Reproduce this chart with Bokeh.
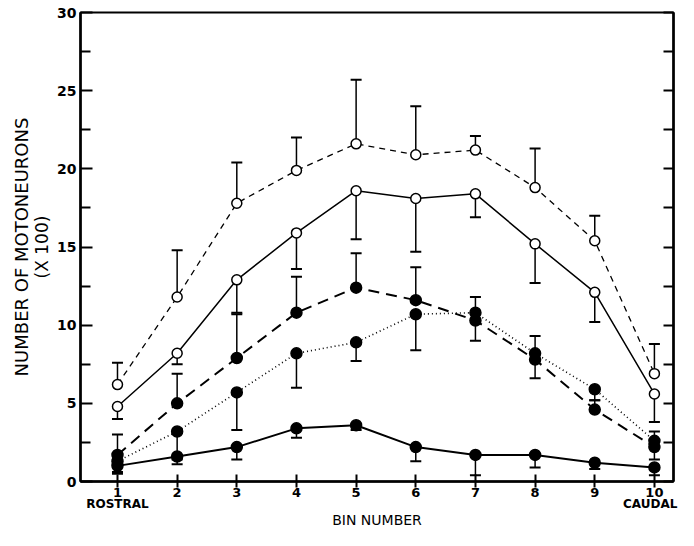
from bokeh.plotting import figure
from bokeh.models import LinearAxis, FixedTicker, Range1d
from bokeh.embed import file_html
from bokeh.resources import INLINE

# ---- data ----
bins = [1, 2, 3, 4, 5, 6, 7, 8, 9, 10]

open_dashed_mean = [6.2, 11.8, 17.8, 19.9, 21.6, 20.9, 21.2, 18.8, 15.4, 6.9]
open_dashed_err = [7.6, 14.8, 20.4, 22.0, 25.7, 24.0, 22.1, 21.3, 17.0, 8.8]

open_solid_mean = [4.8, 8.2, 12.9, 15.9, 18.6, 18.1, 18.4, 15.2, 12.1, 5.6]
open_solid_err = [4.0, 7.5, 10.8, 13.6, 15.5, 14.7, 16.9, 12.7, 10.2, 3.8]

filled_dashed_mean = [1.7, 5.0, 7.9, 10.8, 12.4, 11.6, 10.3, 7.8, 4.6, 2.2]
filled_dashed_err = [3.0, 6.9, 10.7, 13.1, 14.6, 13.7, 9.0, 6.6, 5.2, 1.4]

filled_dotted_mean = [1.3, 3.2, 5.7, 8.2, 8.9, 10.7, 10.8, 8.2, 5.9, 2.6]
filled_dotted_err = [0.6, 1.4, 3.3, 6.0, 7.7, 8.4, 11.8, 9.3, 5.2, 3.2]

filled_solid_mean = [1.0, 1.6, 2.2, 3.4, 3.6, 2.2, 1.7, 1.7, 1.2, 0.9]
filled_solid_err = [0.5, 1.1, 1.4, 2.8, 3.3, 1.3, 0.4, 0.9, 0.8, 0.4]

y_ticks = [0, 5, 10, 15, 20, 25, 30]
y_minor = [2.5, 7.5, 12.5, 17.5, 22.5, 27.5]
x_tick_labels = {i: str(i) for i in bins}
end_labels = {1: "ROSTRAL", 9.93: "CAUDAL"}

series = [
    dict(mean=open_dashed_mean, err=open_dashed_err, dash="6 5", lw=1.3, fill="white", size=10),
    dict(mean=open_solid_mean, err=open_solid_err, dash="solid", lw=1.5, fill="white", size=10),
    dict(mean=filled_dashed_mean, err=filled_dashed_err, dash="11 7", lw=2.0, fill="black", size=11),
    dict(mean=filled_dotted_mean, err=filled_dotted_err, dash="1 3", lw=1.6, fill="black", size=11),
    dict(mean=filled_solid_mean, err=filled_solid_err, dash="solid", lw=2.0, fill="black", size=11),
]

W, H = 678, 530
p = figure(width=W, height=H, output_backend="svg", toolbar_location=None,
           x_range=Range1d(0.38, 10.32), y_range=Range1d(0, 30),
           min_border_left=80, min_border_right=5, min_border_top=12, min_border_bottom=40)
p.xgrid.visible = False
p.ygrid.visible = False
p.background_fill_color = "white"
p.border_fill_color = "white"
p.outline_line_color = "black"
p.outline_line_width = 2

FONT = "DejaVu Sans"

# left axis (tick labels + second title line)
ya = p.yaxis[0]
ya.ticker = FixedTicker(ticks=y_ticks, minor_ticks=y_minor)
ya.axis_line_width = 2.5
ya.major_tick_in = 12
ya.major_tick_out = 0
ya.minor_tick_in = 10
ya.minor_tick_out = 0
ya.major_tick_line_width = 2
ya.minor_tick_line_width = 2
ya.major_label_standoff = 4
ya.major_label_text_font = FONT
ya.major_label_text_font_style = "bold"
ya.major_label_text_font_size = "14px"
ya.major_label_text_color = "black"
ya.axis_label = "(X 100)"
ya.axis_label_standoff = 2
ya.axis_label_text_font = FONT
ya.axis_label_text_font_style = "normal"
ya.axis_label_text_font_size = "17px"
ya.axis_label_text_color = "black"

# outer left axis carrying the first title line
ya2 = LinearAxis(ticker=FixedTicker(ticks=[]))
ya2.axis_line_color = None
ya2.major_tick_line_color = None
ya2.minor_tick_line_color = None
ya2.major_tick_out = 0
ya2.major_label_standoff = 0
ya2.axis_label = "NUMBER OF MOTONEURONS"
ya2.axis_label_standoff = -2
ya2.axis_label_text_font = FONT
ya2.axis_label_text_font_style = "normal"
ya2.axis_label_text_font_size = "18px"
ya2.axis_label_text_color = "black"
p.add_layout(ya2, "left")

# bottom axis
xa = p.xaxis[0]
xa.ticker = FixedTicker(ticks=bins)
xa.major_label_overrides = x_tick_labels
xa.axis_line_width = 2.5
xa.major_tick_in = 7
xa.major_tick_out = 6
xa.major_tick_line_width = 2
xa.minor_tick_line_color = None
xa.major_label_standoff = 0
xa.major_label_text_font = FONT
xa.major_label_text_font_style = "bold"
xa.major_label_text_font_size = "13px"
xa.major_label_text_color = "black"

# second bottom axis: ROSTRAL / CAUDAL and the x title
xa2 = LinearAxis(ticker=FixedTicker(ticks=list(end_labels.keys())))
xa2.major_label_overrides = end_labels
xa2.axis_line_color = None
xa2.major_tick_line_color = None
xa2.minor_tick_line_color = None
xa2.major_tick_out = 0
xa2.major_tick_in = 0
xa2.major_label_standoff = -3
xa2.major_label_text_font = FONT
xa2.major_label_text_font_style = "bold"
xa2.major_label_text_font_size = "12px"
xa2.major_label_text_color = "black"
xa2.axis_label = "BIN NUMBER"
xa2.axis_label_standoff = -2
xa2.axis_label_text_font = FONT
xa2.axis_label_text_font_style = "normal"
xa2.axis_label_text_font_size = "14px"
xa2.axis_label_text_color = "black"
p.add_layout(xa2, "below")

# right axis (ticks only, empty labels)
r_ticks = y_ticks + y_minor
ra = LinearAxis(ticker=FixedTicker(ticks=r_ticks))
ra.major_label_overrides = {t: "" for t in r_ticks}
ra.axis_line_width = 2.5
ra.major_tick_in = 10
ra.major_tick_out = 0
ra.major_tick_line_width = 2
ra.minor_tick_line_color = None
ra.major_label_standoff = 0
p.add_layout(ra, "right")

# error bars
for s in series:
    p.segment(x0=bins, y0=s["mean"], x1=bins, y1=s["err"], line_color="black", line_width=1.5)
    p.scatter(x=bins, y=s["err"], marker="dash", size=11, line_color="black", line_width=2)

# lines
for s in series:
    p.line(x=bins, y=s["mean"], line_color="black", line_width=s["lw"], line_dash=s["dash"])

# markers
for s in series:
    p.scatter(x=bins, y=s["mean"], marker="circle", size=s["size"], fill_color=s["fill"],
              line_color="black", line_width=1.5)

open("out.html", "w").write(file_html(p, INLINE))
